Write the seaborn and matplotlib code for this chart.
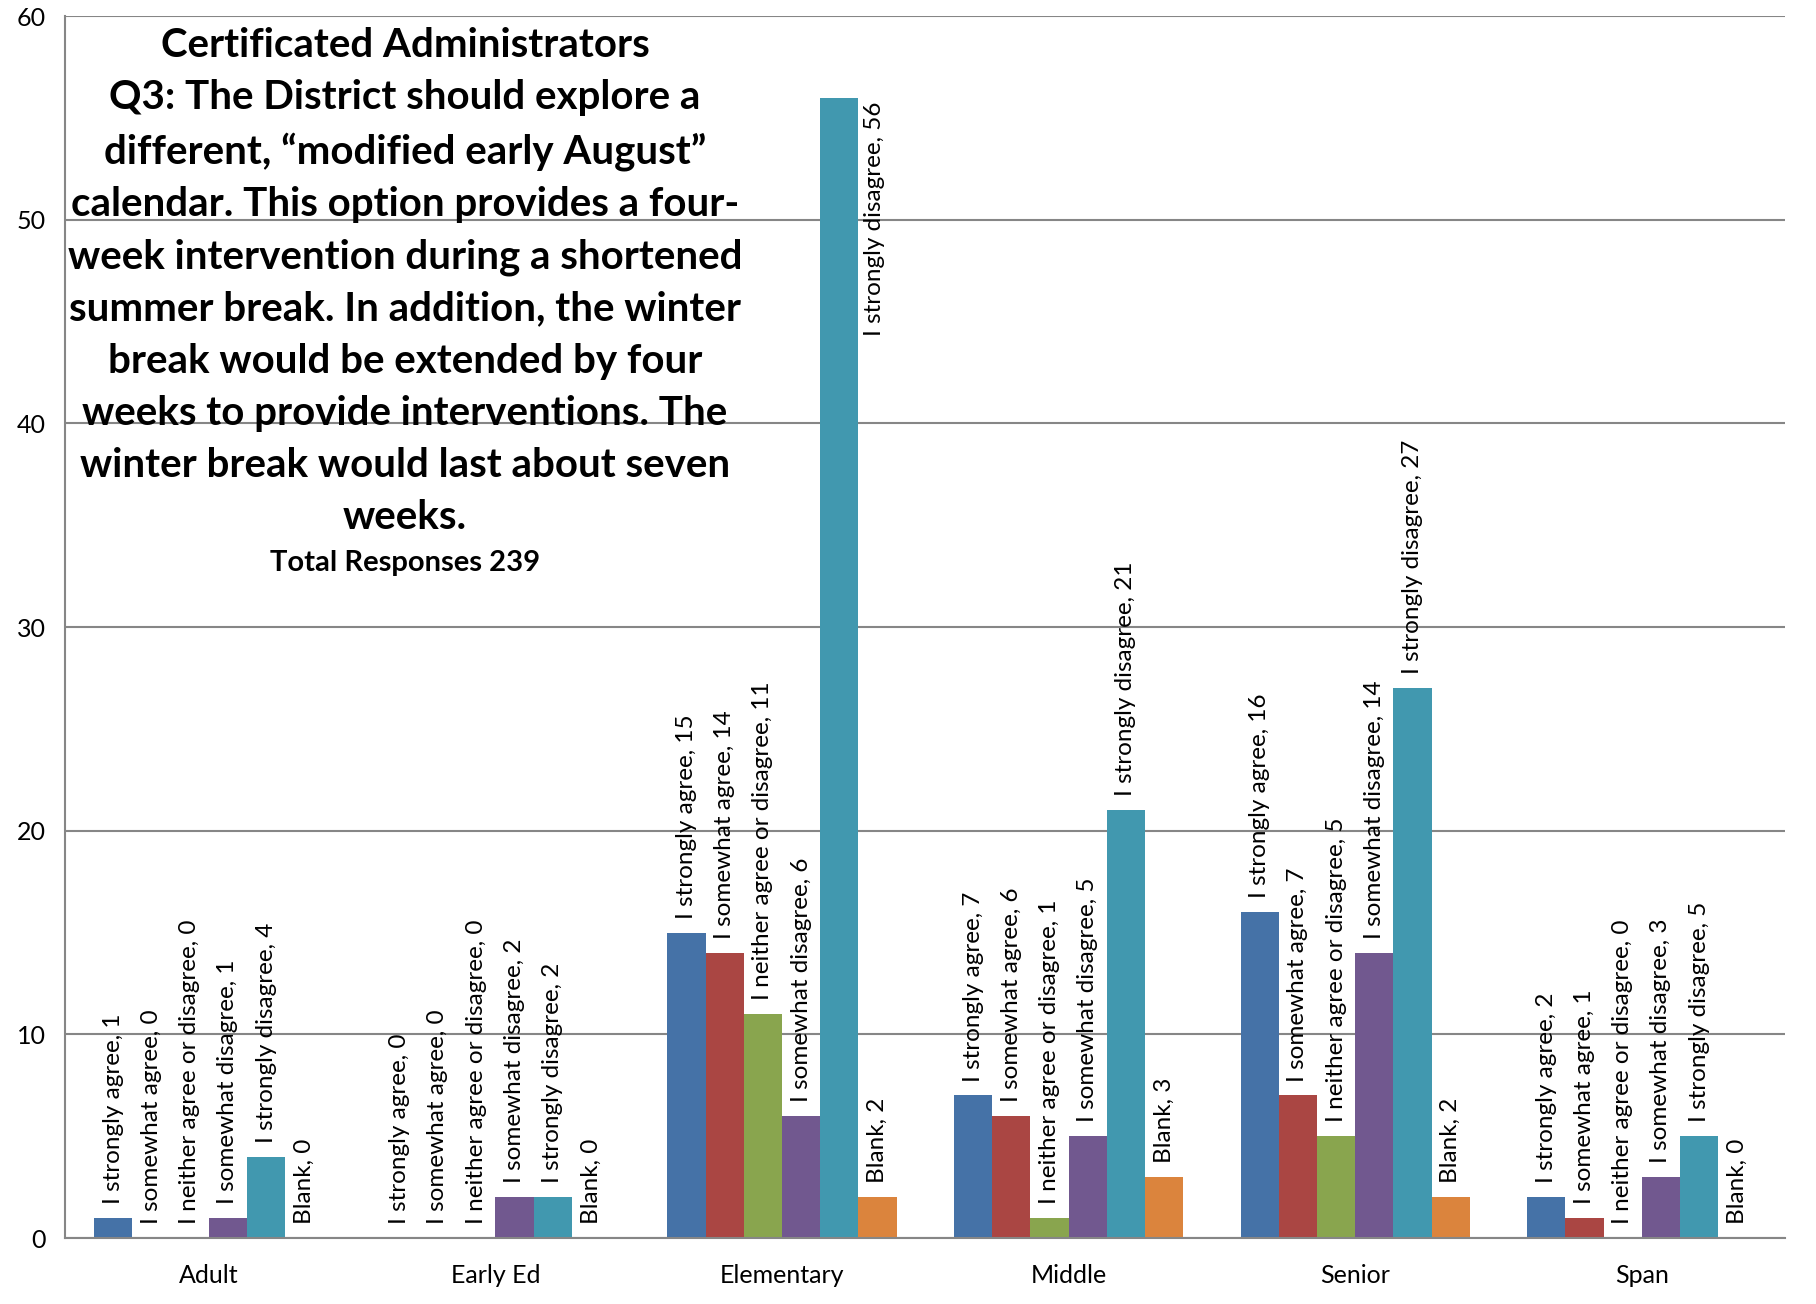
import pandas as pd
import seaborn as sns
import matplotlib.pyplot as plt
from matplotlib.ticker import MultipleLocator, FixedLocator

# Data
schools = ["Adult", "Early Ed", "Elementary", "Middle", "Senior", "Span"]
responses = ["I strongly agree", "I somewhat agree", "I neither agree or disagree",
             "I somewhat disagree", "I strongly disagree", "Blank"]
strongly_agree = [1, 0, 15, 7, 16, 2]
somewhat_agree = [0, 0, 14, 6, 7, 1]
neither = [0, 0, 11, 1, 5, 0]
somewhat_disagree = [1, 2, 6, 5, 14, 3]
strongly_disagree = [4, 2, 56, 21, 27, 5]
blank = [0, 0, 2, 3, 2, 0]

colors = ["#4572A7", "#AA4643", "#89A54E", "#71588F", "#4198AF", "#DB843D"]

series = [strongly_agree, somewhat_agree, neither, somewhat_disagree, strongly_disagree, blank]
rows = []
for resp, vals in zip(responses, series):
    for school, v in zip(schools, vals):
        rows.append({"School": school, "Response": resp, "Count": v})
df = pd.DataFrame(rows)

sns.set_style("white")
plt.rcParams["font.family"] = ["Lato", "DejaVu Sans"]
plt.rcParams["text.color"] = "black"
plt.rcParams["xtick.labelcolor"] = "black"
plt.rcParams["ytick.labelcolor"] = "black"

fig = plt.figure(figsize=(18.16, 13.04), dpi=100)
ax = fig.add_axes([0.036, 0.0506, 0.947, 0.937])

sns.barplot(data=df, x="School", y="Count", hue="Response", order=schools,
            hue_order=responses, palette=colors, width=0.8, saturation=1,
            edgecolor="none", legend=False, ax=ax)

# rotated labels above each bar; a bar too tall gets its label beside it
for cont, resp in zip(ax.containers, responses):
    for b in cont:
        h = b.get_height()
        txt = f"{resp}, {int(h)}"
        if h > 45:
            ax.annotate(txt, (b.get_x() + b.get_width(), h), xytext=(4, -3),
                        textcoords="offset points", rotation=90, ha="left", va="top",
                        fontsize=17.5, color="black")
        else:
            ax.annotate(txt, (b.get_x() + b.get_width() / 2, h), xytext=(0, 10),
                        textcoords="offset points", rotation=90, ha="center", va="bottom",
                        fontsize=17.5, color="black")

ax.set_ylim(0, 60)
ax.set_xlim(-0.5, 5.5)
ax.yaxis.set_major_locator(MultipleLocator(10))
ax.grid(axis="y", color="#868686", linewidth=1.5)
ax.set_axisbelow(True)
ax.set_xlabel("")
ax.set_ylabel("")

for s in ["top", "right"]:
    ax.spines[s].set_visible(False)
for s in ["left", "bottom"]:
    ax.spines[s].set_color("#868686")
    ax.spines[s].set_linewidth(1.5)

ax.tick_params(axis="y", length=8, width=1.5, color="#868686", labelcolor="black",
               labelsize=18, pad=6)
ax.tick_params(axis="x", which="major", length=0, labelcolor="black", labelsize=18, pad=19)
ax.xaxis.set_minor_locator(FixedLocator([i - 0.5 for i in range(len(schools) + 1)]))
ax.tick_params(axis="x", which="minor", length=10, width=1.5, color="#868686", direction="out")

title = ("Certificated Administrators\n"
         "Q3: The District should explore a\n"
         "different, \u201cmodified early August\u201d\n"
         "calendar. This option provides a four-\n"
         "week intervention during a shortened\n"
         "summer break. In addition, the winter\n"
         "break would be extended by four\n"
         "weeks to provide interventions. The\n"
         "winter break would last about seven\n"
         "weeks.")
fig.text(0.223, 0.979, title, ha="center", va="top", fontsize=29,
         fontweight="bold", linespacing=1.5, color="black")
fig.text(0.223, 0.568, "Total Responses 239", ha="center", va="center",
         fontsize=21, fontweight="bold", color="black")

fig.savefig("out.png", dpi=100)
